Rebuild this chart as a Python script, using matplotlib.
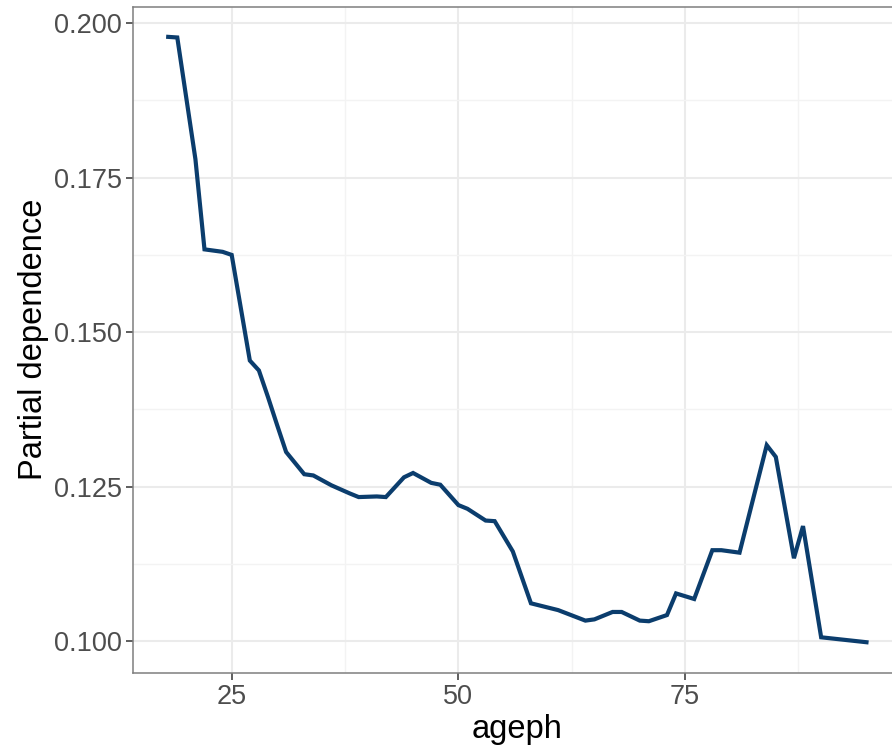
import matplotlib
matplotlib.use("Agg")
import matplotlib.pyplot as plt
from matplotlib.ticker import MultipleLocator, FixedLocator

plt.rcParams['font.family'] = ['Liberation Sans', 'DejaVu Sans']

ageph = [18, 19, 21, 22, 24, 25, 27, 28, 29, 30, 31, 33, 34, 36, 38, 39, 41, 42,
         44, 45, 47, 48, 50, 51, 53, 54, 56, 58, 61, 64, 65, 67, 68, 70, 71, 73,
         74, 76, 78, 79, 81, 84, 85, 87, 88, 90, 95]
pdep = [0.1978, 0.1977, 0.1780, 0.1634, 0.1630, 0.1625, 0.1454, 0.1438, 0.1395,
        0.1350, 0.1306, 0.1270, 0.1268, 0.1252, 0.1239, 0.1233, 0.1234, 0.1233,
        0.1265, 0.1272, 0.1256, 0.1253, 0.1220, 0.1214, 0.1195, 0.1194, 0.1145,
        0.1061, 0.1050, 0.1033, 0.1035, 0.1047, 0.1047, 0.1033, 0.1032, 0.1042,
        0.1077, 0.1068, 0.1147, 0.1147, 0.1143, 0.1317, 0.1298, 0.1134, 0.1186,
        0.1006, 0.0998]

x_ticks = [25, 50, 75]
y_ticks = [0.100, 0.125, 0.150, 0.175, 0.200]
y_tick_labels = ["0.100", "0.125", "0.150", "0.175", "0.200"]

W, H = 892, 748
fig = plt.figure(figsize=(W / 100, H / 100), dpi=100)
left_px, right_px, top_px, bot_px = 133.3, 901.4, 6.6, 672.5
ax = fig.add_axes([left_px / W, (H - bot_px) / H, (right_px - left_px) / W, (bot_px - top_px) / H])

ax.plot(ageph, pdep, color='#0b3d6d', lw=3.0, solid_joinstyle='miter', zorder=3)

xr = max(ageph) - min(ageph)
ax.set_xlim(min(ageph) - 0.05 * xr, max(ageph) + 0.05 * xr)
yr = max(pdep) - min(pdep)
ax.set_ylim(min(pdep) - 0.05 * yr, max(pdep) + 0.05 * yr)

ax.xaxis.set_major_locator(FixedLocator(x_ticks))
ax.xaxis.set_minor_locator(MultipleLocator(12.5))
ax.yaxis.set_major_locator(FixedLocator(y_ticks))
ax.set_yticklabels(y_tick_labels)
ax.yaxis.set_minor_locator(MultipleLocator(0.0125))

ax.grid(which='major', color='#ebebeb', lw=1.5, zorder=0)
ax.grid(which='minor', color='#f3f3f3', lw=1.0, zorder=0)
ax.set_axisbelow(True)

ax.tick_params(which='major', direction='out', length=5, width=1.1, color='#333333',
               labelsize=19.5, labelcolor='#4d4d4d', pad=3)
ax.tick_params(which='minor', length=0)

for s in ax.spines.values():
    s.set_color('#7f7f7f')
    s.set_linewidth(1.1)

ax.set_xlabel('ageph', fontsize=23.5, color='black', labelpad=3)
ax.set_ylabel('Partial dependence', fontsize=23.5, color='black', labelpad=4)

fig.savefig('out.png', dpi=100)
